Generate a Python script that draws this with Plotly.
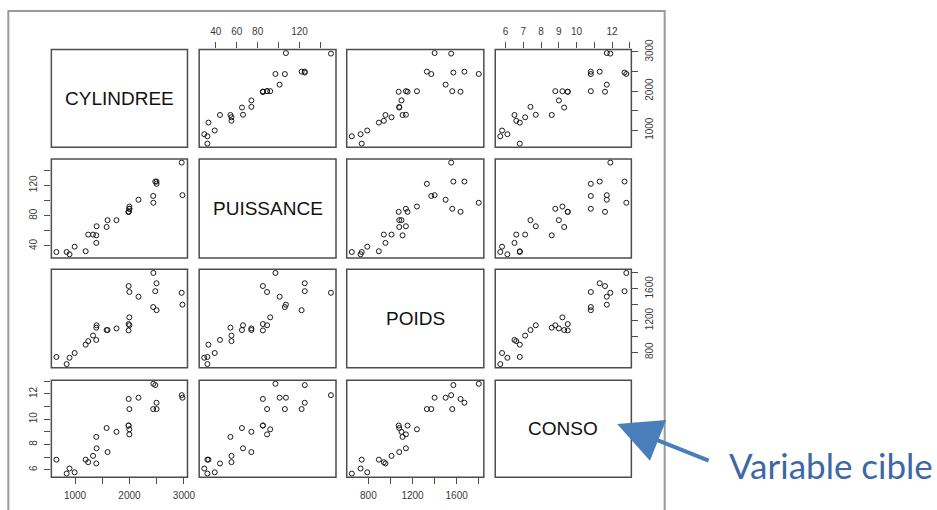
import plotly.graph_objects as go

# Véhicules : cylindrée (cm3), puissance (kW), poids (kg), consommation (l/100km)
noms = ["CYLINDREE", "PUISSANCE", "POIDS", "CONSO"]
cylindree = [846, 993, 899, 1390, 1195, 658, 1331, 1597, 1761, 2165, 1983, 1984, 1998, 1580,
             1390, 1396, 2435, 1242, 2972, 2958, 2497, 2496, 1998, 1997, 1984, 2438, 2473]
puissance = [32, 39, 29, 44, 33, 32, 55, 74, 74, 101, 85, 85, 89, 65,
             54, 66, 106, 55, 107, 150, 122, 125, 89, 92, 85, 97, 125]
poids = [650, 790, 730, 955, 895, 740, 1010, 1080, 1100, 1500, 1075, 1155, 1140, 1080,
         1110, 1140, 1370, 940, 1400, 1550, 1330, 1670, 1560, 1240, 1635, 1800, 1570]
conso = [5.7, 5.8, 6.1, 6.5, 6.8, 6.8, 7.1, 7.4, 9.0, 11.7, 9.5, 9.5, 8.8, 9.3,
         8.6, 7.7, 10.8, 6.6, 11.7, 11.9, 10.8, 11.3, 10.8, 9.2, 11.6, 12.8, 12.7]

# Graduations de chaque variable (libellé vide = graduation sans texte)
cyl_ticks = [1000, 1500, 2000, 2500, 3000]
cyl_labels = ["1000", "", "2000", "", "3000"]
puis_ticks = [40, 60, 80, 100, 120, 140]
puis_labels_h = ["40", "60", "80", "", "120", ""]
puis_labels_v = ["40", "", "80", "", "120", ""]
poids_ticks = [800, 1000, 1200, 1400, 1600, 1800]
poids_labels = ["800", "", "1200", "", "1600", ""]
conso_ticks = [6, 7, 8, 9, 10, 11, 12, 13]
conso_labels_h = ["6", "7", "8", "9", "10", "", "12", ""]
conso_labels_v = ["6", "", "8", "", "10", "", "12", ""]

valeurs = [cylindree, puissance, poids, conso]
ticks = [cyl_ticks, puis_ticks, poids_ticks, conso_ticks]
labels_h = [cyl_labels, puis_labels_h, poids_labels, conso_labels_h]
labels_v = [cyl_labels, puis_labels_v, poids_labels, conso_labels_v]

W, H = 937, 510
# Emplacement des panneaux, en pixels depuis le coin haut-gauche
col_px = [(51.8, 189.1), (200.9, 338.9), (349.7, 488.0), (499.5, 636.8)]
row_px = [(40.2, 140.0), (151.9, 252.9), (264.5, 364.9), (377.6, 476.5)]


def px_x(v):
    return v / W


def px_y(v):
    return 1 - v / H


def etendue(v):
    lo, hi = min(v), max(v)
    d = (hi - lo) * 0.04
    return [lo - d, hi + d]


tick_font = dict(family="Liberation Sans, Arial, sans-serif", size=10, color="#3a3a3a")
fig = go.Figure()
layout = {}
shapes = []
annotations = []

for i in range(4):
    for j in range(4):
        x0, x1 = col_px[j]
        y0, y1 = row_px[i]
        shapes.append(dict(type="rect", xref="paper", yref="paper",
                           x0=px_x(x0), x1=px_x(x1), y0=px_y(y1), y1=px_y(y0),
                           line=dict(color="#4d4d4d", width=1.5), layer="above"))
        if i == j:
            annotations.append(dict(xref="paper", yref="paper",
                                    x=px_x((x0 + x1) / 2), y=px_y((y0 + y1) / 2),
                                    xanchor="center", yanchor="middle",
                                    text=noms[i], showarrow=False,
                                    font=dict(family="Liberation Sans, Arial, sans-serif",
                                              size=19, color="#111111")))
            continue
        k = i * 4 + j + 1
        sx = "" if k == 1 else str(k)
        xa = dict(domain=[px_x(x0), px_x(x1)], range=etendue(valeurs[j]), anchor="y" + sx,
                  showgrid=False, zeroline=False, showline=False, fixedrange=True)
        ya = dict(domain=[px_y(y1), px_y(y0)], range=etendue(valeurs[i]), anchor="x" + sx,
                  showgrid=False, zeroline=False, showline=False, fixedrange=True)
        if i == 0 and j % 2 == 1:
            xa.update(side="top", ticks="outside", ticklen=6, tickwidth=1.2, tickcolor="#4d4d4d",
                      tickvals=ticks[j], ticktext=labels_h[j], tickfont=tick_font,
                      ticklabelstandoff=3)
        elif i == 3 and j % 2 == 0:
            xa.update(side="bottom", ticks="outside", ticklen=6, tickwidth=1.2, tickcolor="#4d4d4d",
                      tickvals=ticks[j], ticktext=labels_h[j], tickfont=tick_font,
                      ticklabelstandoff=3)
        else:
            xa.update(ticks="", showticklabels=False)
        if j == 0 and i % 2 == 1:
            ya.update(side="left", ticks="outside", ticklen=6, tickwidth=1.2, tickcolor="#4d4d4d",
                      tickvals=ticks[i], ticktext=labels_v[i], tickfont=tick_font,
                      tickangle=-90, ticklabelstandoff=3)
        elif j == 3 and i % 2 == 0:
            ya.update(side="right", ticks="outside", ticklen=6, tickwidth=1.2, tickcolor="#4d4d4d",
                      tickvals=ticks[i], ticktext=labels_v[i], tickfont=tick_font,
                      tickangle=-90, ticklabelstandoff=3)
        else:
            ya.update(ticks="", showticklabels=False)
        layout["xaxis" + sx] = xa
        layout["yaxis" + sx] = ya
        fig.add_trace(go.Scatter(x=valeurs[j], y=valeurs[i], mode="markers",
                                 xaxis="x" + sx, yaxis="y" + sx, showlegend=False,
                                 hoverinfo="skip",
                                 marker=dict(symbol="circle-open", size=5,
                                             color="#1a1a1a", line=dict(width=1))))

# Cadre gris autour de la matrice
shapes.append(dict(type="rect", xref="paper", yref="paper",
                   x0=px_x(8.4), x1=px_x(670.4), y0=-0.1, y1=px_y(1.0),
                   line=dict(color="#9a9a9a", width=2)))

# Flèche désignant la variable cible
annotations.append(dict(xref="paper", yref="paper", x=px_x(622.5), y=px_y(422.4),
                        axref="pixel", ayref="pixel", ax=93, ay=37,
                        showarrow=True, arrowhead=2, arrowsize=2.2, arrowwidth=4,
                        arrowcolor="#4a7ebb", text=""))
annotations.append(dict(xref="paper", yref="paper", x=px_x(733), y=px_y(463.9),
                        xanchor="left", yanchor="middle", showarrow=False,
                        text="Variable cible",
                        font=dict(family="Lato, Noto Sans, sans-serif", size=35, color="#3d68a8")))

fig.update_layout(width=W, height=H, autosize=False, margin=dict(l=0, r=0, t=0, b=0),
                  paper_bgcolor="white", plot_bgcolor="white",
                  shapes=shapes, annotations=annotations, **layout)
fig.write_html("out.html")
